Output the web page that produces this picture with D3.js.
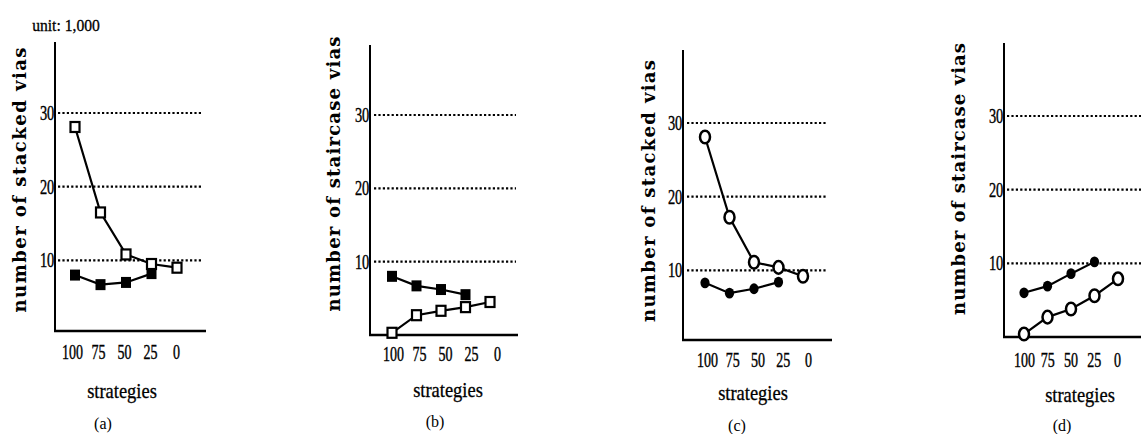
<!DOCTYPE html>
<html>
<head>
<meta charset="utf-8">
<script src="https://cdn.jsdelivr.net/npm/d3@7/dist/d3.min.js"></script>
<style>
  html, body { margin: 0; padding: 0; background: #fff; }
  svg { display: block; }
</style>
</head>
<body>
<div id="chart"></div>
<script>
// strategies on the x axis (percent), filled series has no point at 0
const strategies = [100, 75, 50, 25, 0];
const filledStrategies = [100, 75, 50, 25];
const yTicks = [10, 20, 30];

// (a) stacked vias, square markers
const stackedOpenA = [28.1, 16.5, 10.8, 9.5, 9.0];
const stackedFilledA = [8.0, 6.7, 7.0, 8.2];
// (b) staircase vias, square markers
const staircaseOpenB = [0.3, 2.7, 3.3, 3.8, 4.5];
const staircaseFilledB = [8.0, 6.7, 6.2, 5.5];
// (c) stacked vias, circle markers
const stackedOpenC = [28.1, 17.2, 11.1, 10.4, 9.2];
const stackedFilledC = [8.3, 6.9, 7.5, 8.4];
// (d) staircase vias, circle markers
const staircaseOpenD = [0.4, 2.7, 3.8, 5.6, 7.9];
const staircaseFilledD = [6.0, 6.9, 8.6, 10.2];

const yTitles = ["number of stacked vias", "number of staircase vias", "number of stacked vias", "number of staircase vias"];
const tagLabels = ["(a)", "(b)", "(c)", "(d)"];
const xTitle = "strategies";
const unitNote = "unit: 1,000";

const W = 1141, H = 434;
const serif = "'Liberation Serif', 'Times New Roman', serif";
const titleFont = "'DejaVu Serif', serif";

const panels = [
  { open: stackedOpenA, filled: stackedFilledA, marker: "square",
    ax: 55, top: 42, bottom: 331, y0: 334, y30: 113, xEnd: 206, gridStart: 58, gridEnd: 202,
    m0: 75, m1: 177, l0: 72, l1: 176, tickY: 352, titleX: 26, titleY: 180, titleLen: 265,
    stratX: 122, stratY: 391, tagX: 103, tagY: 423 },
  { open: staircaseOpenB, filled: staircaseFilledB, marker: "square",
    ax: 370, top: 45, bottom: 335, y0: 335, y30: 115, xEnd: 518, gridStart: 374, gridEnd: 516,
    m0: 392, m1: 490, l0: 393, l1: 497, tickY: 354, titleX: 340, titleY: 174, titleLen: 275,
    stratX: 448, stratY: 390, tagX: 435, tagY: 421 },
  { open: stackedOpenC, filled: stackedFilledC, marker: "circle",
    ax: 683, top: 50, bottom: 340, y0: 344, y30: 123, xEnd: 832, gridStart: 687, gridEnd: 827,
    m0: 705, m1: 803, l0: 707, l1: 808, tickY: 360, titleX: 655, titleY: 191, titleLen: 262,
    stratX: 753, stratY: 393, tagX: 737, tagY: 425 },
  { open: staircaseOpenD, filled: staircaseFilledD, marker: "circle",
    ax: 1004, top: 43, bottom: 337, y0: 337, y30: 116, xEnd: 1141, gridStart: 1007, gridEnd: 1141,
    m0: 1024, m1: 1118, l0: 1024, l1: 1117, tickY: 360, titleX: 965, titleY: 179, titleLen: 272,
    stratX: 1080, stratY: 395, tagX: 1062, tagY: 425 }
];

const svg = d3.select("#chart").append("svg")
  .attr("width", W).attr("height", H)
  .attr("viewBox", `0 0 ${W} ${H}`);

svg.append("text")
  .attr("transform", "translate(66,25) scale(0.92,1)")
  .attr("dy", "0.35em").attr("text-anchor", "middle")
  .attr("font-family", serif).attr("font-size", 17)
  .attr("stroke", "#000").attr("stroke-width", 0.3)
  .text(unitNote);

panels.forEach((p, i) => {
  const g = svg.append("g");

  const y = d3.scaleLinear().domain([0, 30]).range([p.y0, p.y30]);
  const x = d3.scalePoint().domain(strategies).range([p.m0, p.m1]);
  const xLabel = d3.scalePoint().domain(strategies).range([p.l0, p.l1]);

  // dotted gridlines
  g.selectAll(".grid").data(yTicks).join("line")
    .attr("x1", p.gridStart).attr("x2", p.gridEnd)
    .attr("y1", d => y(d)).attr("y2", d => y(d))
    .attr("stroke", "#000").attr("stroke-width", 2.2)
    .attr("stroke-dasharray", "2.2 2.2");

  // axes lines
  g.append("line").attr("x1", p.ax).attr("x2", p.ax).attr("y1", p.top).attr("y2", p.bottom + 1)
    .attr("stroke", "#000").attr("stroke-width", 2);
  g.append("line").attr("x1", p.ax - 1).attr("x2", p.xEnd).attr("y1", p.bottom).attr("y2", p.bottom)
    .attr("stroke", "#000").attr("stroke-width", 2.6);

  // y tick labels
  const yAxisG = g.append("g").attr("transform", `translate(${p.ax},0)`)
    .call(d3.axisLeft(y).tickValues(yTicks).tickSize(0).tickPadding(1));
  yAxisG.select(".domain").remove();
  yAxisG.selectAll(".tick text")
    .attr("font-family", serif).attr("font-size", 20).attr("fill", "#000")
    .attr("stroke", "#000").attr("stroke-width", 0.4)
    .attr("transform", "scale(0.72,1)");

  // x tick labels
  const xAxisG = g.append("g").attr("transform", `translate(0,${p.tickY})`)
    .call(d3.axisBottom(xLabel).tickSize(0));
  xAxisG.select(".domain").remove();
  xAxisG.selectAll(".tick text")
    .attr("y", 0).attr("dy", "0.35em")
    .attr("font-family", serif).attr("font-size", 20).attr("fill", "#000")
    .attr("stroke", "#000").attr("stroke-width", 0.4)
    .attr("transform", "scale(0.7,1)");

  // titles
  g.append("text")
    .attr("transform", `translate(${p.titleX},${p.titleY}) rotate(-90)`)
    .attr("text-anchor", "middle")
    .attr("font-family", titleFont).attr("font-weight", "bold").attr("font-size", 18)
    .attr("textLength", p.titleLen).attr("lengthAdjust", "spacing")
    .text(yTitles[i]);

  g.append("text")
    .attr("transform", `translate(${p.stratX},${p.stratY}) scale(0.88,1)`)
    .attr("dy", "0.35em").attr("text-anchor", "middle")
    .attr("font-family", serif).attr("font-size", 21)
    .attr("stroke", "#000").attr("stroke-width", 0.3)
    .text(xTitle);

  g.append("text")
    .attr("x", p.tagX).attr("y", p.tagY).attr("dy", "0.35em")
    .attr("text-anchor", "middle")
    .attr("font-family", serif).attr("font-size", 16)
    .text(tagLabels[i]);

  // series
  const openPts = strategies.map((s, k) => ({ s, v: p.open[k] }));
  const filledPts = filledStrategies.map((s, k) => ({ s, v: p.filled[k] }));
  const line = d3.line().x(d => x(d.s)).y(d => y(d.v));

  [filledPts, openPts].forEach(pts => {
    g.append("path").attr("d", line(pts))
      .attr("fill", "none").attr("stroke", "#000").attr("stroke-width", 2.2);
  });

  if (p.marker === "square") {
    g.selectAll(".fm").data(filledPts).join("rect")
      .attr("x", d => x(d.s) - 5).attr("y", d => y(d.v) - 5.5)
      .attr("width", 10).attr("height", 11).attr("fill", "#000");
    g.selectAll(".om").data(openPts).join("rect")
      .attr("x", d => x(d.s) - 4.5).attr("y", d => y(d.v) - 5)
      .attr("width", 9).attr("height", 10)
      .attr("fill", "#fff").attr("stroke", "#000").attr("stroke-width", 2.2);
  } else {
    g.selectAll(".fm").data(filledPts).join("ellipse")
      .attr("cx", d => x(d.s)).attr("cy", d => y(d.v))
      .attr("rx", 4.6).attr("ry", 5.4).attr("fill", "#000");
    g.selectAll(".om").data(openPts).join("ellipse")
      .attr("cx", d => x(d.s)).attr("cy", d => y(d.v))
      .attr("rx", 5).attr("ry", 6.3)
      .attr("fill", "#fff").attr("stroke", "#000").attr("stroke-width", 2.5);
  }
});
</script>
</body>
</html>
